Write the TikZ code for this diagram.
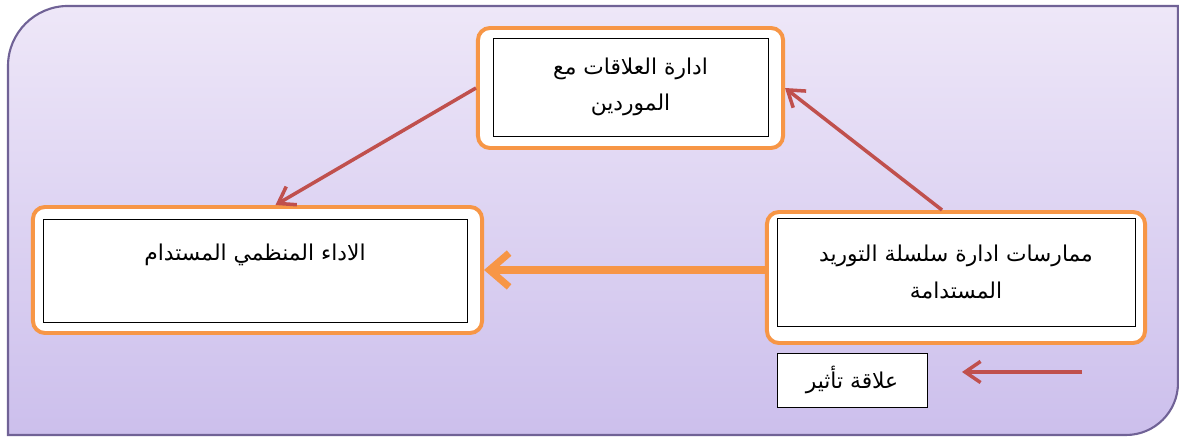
\documentclass[tikz,border=0pt]{standalone}
\usepackage{fontspec}
\newfontfamily\arabicfont[Script=Arabic]{DejaVu Sans}
\TeXXeTstate=1
\usepackage{tikz}
\usetikzlibrary{arrows.meta,positioning,calc}

\definecolor{bgTop}{RGB}{238,231,248}
\definecolor{bgBot}{RGB}{204,191,236}
\definecolor{bgLine}{RGB}{112,98,150}
\definecolor{boxOrange}{RGB}{247,150,70}
\definecolor{arrRed}{RGB}{192,80,77}

\begin{document}
\begin{tikzpicture}[x=0.025cm,y=0.025cm,>=Latex,
  outerbox/.style={draw=boxOrange,line width=2.8pt,fill=white,rounded corners=0.3cm},
  innerbox/.style={draw=black,line width=0.6pt,fill=white,align=center,
    font=\arabicfont\fontsize{15.5}{26}\selectfont},
  redarr/.style={draw=arrRed,line width=2.5pt,-{Straight Barb[length=11pt,width=15pt]}},
  orarr/.style={draw=boxOrange,line width=5pt,-{Straight Barb[length=14pt,width=24pt]}}]
\useasboundingbox (0,0) rectangle (1179,438);

% background panel
\draw[top color=bgTop,bottom color=bgBot,draw=bgLine,line width=1.5pt]
  (8,3) -- (8,372) arc[start angle=180,end angle=90,radius=1.5cm]
  -- (1178,432) -- (1178,55) arc[start angle=0,end angle=-90,radius=1.3cm] -- cycle;

% boxes
\node[outerbox,minimum width=7.625cm,minimum height=3cm] (supp) at (630.5,350) {};
\node[innerbox,minimum width=6.875cm,minimum height=2.45cm] (suppIn) at (630.5,351)
  {\beginR ادارة العلاقات مع\endR\\\beginR الموردين\endR};

\node[outerbox,minimum width=11.225cm,minimum height=3.15cm] (perf) at (257.5,168) {};
\node[innerbox,minimum width=10.6cm,minimum height=2.575cm] (perfIn) at (255,167.5)
  {\beginR الاداء المنظمي المستدام\endR\\~};

\node[outerbox,minimum width=9.45cm,minimum height=3.275cm] (prac) at (956,160.5) {};
\node[innerbox,minimum width=8.95cm,minimum height=2.7cm] (pracIn) at (956,166)
  {\beginR ممارسات ادارة سلسلة التوريد\endR\\\beginR المستدامة\endR};

% legend
\node[innerbox,minimum width=3.75cm,minimum height=1.35cm] (leg) at (852,58)
  {\beginR علاقة تأثير\endR};
\coordinate (legA) at (1082,66);
\coordinate (legB) at (962,66);

% arrows
\draw[redarr] ([xshift=-0.35cm]prac.north) -- (supp.east);
\draw[redarr] (supp.west) -- ([xshift=0.45cm]perf.north);
\draw[orarr] (prac.west |- perf.east) -- (perf.east);
\draw[redarr] (legA) -- (legB);
\end{tikzpicture}
\end{document}
